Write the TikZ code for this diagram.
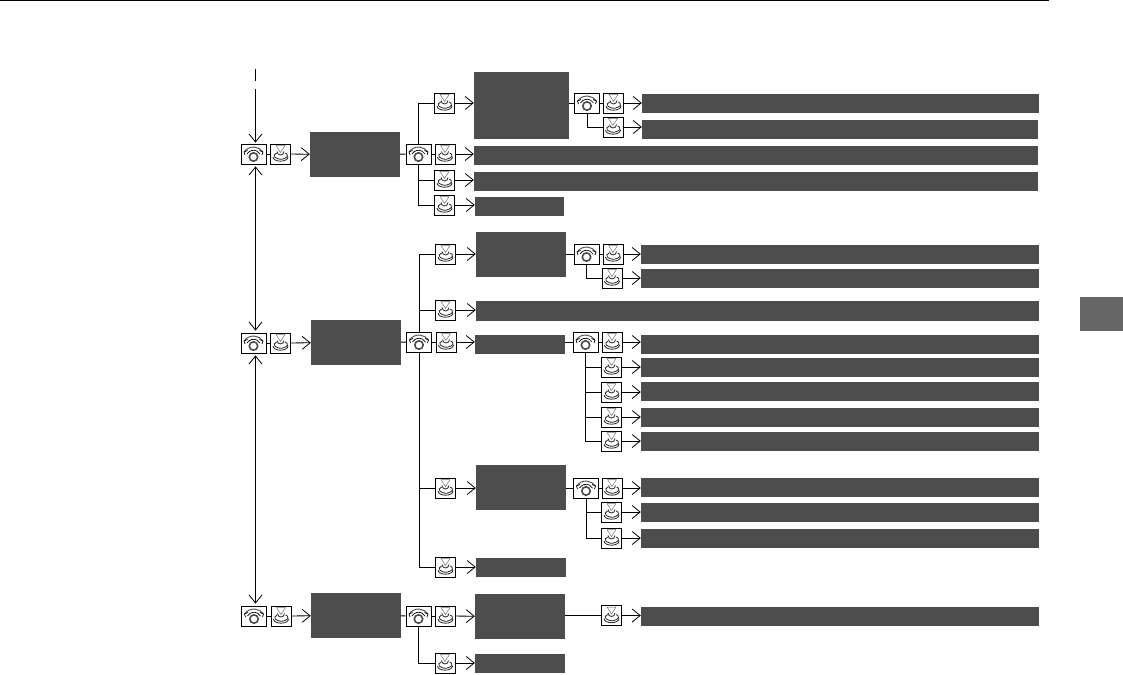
\documentclass[tikz,border=0pt]{standalone}
\usepackage{tikz}
\usetikzlibrary{arrows.meta, calc}
\definecolor{bardark}{HTML}{4D4D4D}
\definecolor{tabgrey}{HTML}{666666}
\tikzset{
  link/.style={line width=0.8pt},
  go/.style={link, -{Straight Barb[length=8pt,width=13pt,line width=0.8pt]}},
  both/.style={link, {Straight Barb[length=8pt,width=13pt,line width=0.8pt]}-{Straight Barb[length=8pt,width=13pt,line width=0.8pt]}},
  bar/.style={fill=bardark, inner sep=0pt, minimum height=19pt},
  box/.style={fill=bardark, inner sep=0pt, minimum width=90pt, minimum height=45pt},
  stub/.style={fill=bardark, inner sep=0pt, minimum width=90pt, minimum height=19pt},
  dial/.style={draw, line width=0.8pt, fill=white, inner sep=0pt, minimum width=25pt, minimum height=20pt,
    path picture={
      \tikzset{y=1pt}
      \draw[line width=1.6pt, black!70] (path picture bounding box.center) ++(0,-3) circle (4.2);
      \draw[line width=0.7pt] (path picture bounding box.center) ++(-6.5,0) arc (150:30:7.5);
      \draw[line width=0.9pt, black!70] (path picture bounding box.center) ++(-9.5,2) arc (145:35:11.6);
      \draw[line width=0.7pt] (path picture bounding box.center) ++(-9.5,2) -- ++(3.5,1.5);
      \draw[line width=0.7pt] (path picture bounding box.center) ++(-9.5,2) -- ++(1,-3);
      \draw[line width=0.7pt] (path picture bounding box.center) ++(9.5,2) -- ++(-3.5,1.5);
      \draw[line width=0.7pt] (path picture bounding box.center) ++(9.5,2) -- ++(-1,-3);
    }},
  push/.style={draw, line width=0.8pt, fill=white, inner sep=0pt, minimum width=20pt, minimum height=20pt,
    path picture={
      \tikzset{y=1pt}
      \draw[line width=0.5pt, black!55] (path picture bounding box.center) ++(-4.5,8.5) -- ++(9,0) -- ++(-4.5,-7) -- cycle;
      \draw[line width=0.8pt, black!85] (path picture bounding box.center) ++(-3.5,2.5) arc (180:360:3.5 and 3.5);
      \draw[line width=0.8pt, black!85] (path picture bounding box.center) ++(-3.8,1) arc (120:240:5 and 3) arc (220:320:5.5 and 3) arc (300:420:5 and 3);
      \draw[line width=0.8pt, black!85] (path picture bounding box.center) ++(-7.5,-3) arc (180:360:7.5 and 4.2);
    }}
}
\begin{document}
\begin{tikzpicture}[x=1pt, y=-1pt]
    \useasboundingbox (0,0) rectangle (1123,674);

    \draw[line width=1.5pt] (0,0.5) -- (1049,0.5);
    \fill[tabgrey] (1080,297) rectangle (1123,331);

    % top group
    \node[dial] (dialA) at (253.5,154) {};
    \node[push] (pushA) at (280.5,154) {};
    \node[box] (boxA) at (355,154.5) {};
    \node[dial] (dialAa) at (418.5,154) {};
    \node[push] (pushAa) at (445,154) {};
    \node[bar, minimum width=564pt] (barAa) at (756,155.5) {};
    \node[push] (pushAb) at (444.5,103) {};
    \node[box, minimum width=95pt, minimum height=67pt] (boxAb) at (521.5,105.5) {};
    \node[dial] (dialAb) at (587,103) {};
    \node[push] (pushAc) at (613.5,103) {};
    \node[bar, minimum width=397pt] (barAc) at (840.5,103.5) {};
    \node[push] (pushAd) at (613,127) {};
    \node[bar, minimum width=396pt] (barAd) at (840,129.5) {};
    \node[push] (pushAe) at (444.5,180) {};
    \node[bar, minimum width=564pt] (barAe) at (756,181) {};
    \node[push] (pushAf) at (444.5,205) {};
    \node[stub, minimum width=89pt] (stubA) at (519.5,206) {};

    % middle group
    \node[dial] (dialB) at (253.5,343) {};
    \node[push] (pushB) at (280.5,343) {};
    \node[box] (boxB) at (356,342.5) {};
    \node[dial] (dialBa) at (419,342) {};
    \node[push] (pushBa) at (446,342) {};
    \node[stub] (stubB) at (520,344.5) {};
    \node[push] (pushBb) at (445.5,254) {};
    \node[box] (boxBb) at (521,254.5) {};
    \node[dial] (dialBb) at (586.5,254) {};
    \node[push] (pushBc) at (613,254) {};
    \node[bar, minimum width=398pt] (barBc) at (840,254.5) {};
    \node[push] (pushBd) at (612,278) {};
    \node[bar, minimum width=398pt] (barBd) at (840,278.5) {};
    \node[push] (pushBe) at (445.5,310) {};
    \node[bar, minimum width=563pt, minimum height=20pt] (barBe) at (757.5,311) {};
    \node[dial] (dialBc) at (585.5,342) {};
    \node[push] (pushBf) at (612,342) {};
    \node[bar, minimum width=398pt] (barBf) at (840,344) {};
    \node[push] (pushBg) at (611.5,367) {};
    \node[bar, minimum width=398pt] (barBg) at (840,367.5) {};
    \node[push] (pushBh) at (611.5,392) {};
    \node[bar, minimum width=398pt] (barBh) at (840,391.5) {};
    \node[push] (pushBi) at (611.5,417) {};
    \node[bar, minimum width=398pt] (barBi) at (840,417.5) {};
    \node[push] (pushBj) at (611.5,441) {};
    \node[bar, minimum width=398pt] (barBj) at (840,441.5) {};
    \node[push] (pushBk) at (445.5,488) {};
    \node[box] (boxBk) at (521,487.5) {};
    \node[dial] (dialBk) at (586,488) {};
    \node[push] (pushBl) at (612,488) {};
    \node[bar, minimum width=398pt] (barBl) at (840,487.5) {};
    \node[push] (pushBm) at (611.5,512) {};
    \node[bar, minimum width=398pt] (barBm) at (840,512.5) {};
    \node[push] (pushBn) at (611.5,538) {};
    \node[bar, minimum width=398pt] (barBn) at (840,538.5) {};
    \node[push] (pushBo) at (445.5,567) {};
    \node[stub] (stubBo) at (521,567.5) {};

    % bottom group
    \node[dial] (dialC) at (254,616) {};
    \node[push] (pushC) at (281,616) {};
    \node[box] (boxC) at (356,615.5) {};
    \node[dial] (dialCa) at (418.5,616) {};
    \node[push] (pushCa) at (445.5,616) {};
    \node[box] (boxCa) at (520,616.5) {};
    \node[push] (pushCb) at (611.5,615.5) {};
    \node[bar, minimum width=398pt] (barCb) at (840,616.5) {};
    \node[push] (pushCc) at (445,663) {};
    \node[stub] (stubC) at (520,663.5) {};

    % entry and mode changes
    \coordinate (inA) at (255.5,69);
    \coordinate (inB) at (255.5,81);
    \coordinate (inC) at (255.5,89);
    \draw[link] (inA) -- (inB);
    \draw[go] (inC) -- ($(dialA.north -| inC)+(0,-1)$);
    \draw[both] ($(dialA.south -| inC)+(0,2)$) -- ($(dialB.north -| inC)+(0,-2)$);
    \draw[both] ($(dialB.south -| inC)+(0,2)$) -- ($(dialC.north -| inC)+(0,-2)$);

    % links
    \draw[link] (dialA) -- (pushA);
    \draw[go] (pushA) -- (boxA);
    \draw[link] (boxA) -- (dialAa);
    \draw[link] (dialAa) -- (pushAa);
    \draw[go] (pushAa) -- (barAa.west |- pushAa);
    \draw[link] (dialAa.north) |- (pushAb);
    \draw[link] (dialAa.south) |- (pushAe);
    \draw[link] (dialAa.south) |- (pushAf);
    \draw[go] (pushAb) -- (boxAb.west |- pushAb);
    \draw[go] (pushAe) -- (barAe.west |- pushAe);
    \draw[go] (pushAf) -- (stubA.west |- pushAf);
    \draw[link] (boxAb.east |- dialAb) -- (dialAb);
    \draw[link] (dialAb) -- (pushAc);
    \draw[go] (pushAc) -- (barAc.west |- pushAc);
    \draw[link] (dialAb.south) |- (pushAd);
    \draw[go] (pushAd) -- (barAd.west |- pushAd);

    \draw[link] (dialB) -- (pushB);
    \draw[go] (pushB) -- (boxB);
    \draw[link] (boxB) -- (dialBa);
    \draw[link] (dialBa) -- (pushBa);
    \draw[go] (pushBa) -- (stubB.west |- pushBa);
    \draw[link] (dialBa.north) |- (pushBb);
    \draw[link] (dialBa.north) |- (pushBe);
    \draw[link] (dialBa.south) |- (pushBk);
    \draw[link] (dialBa.south) |- (pushBo);
    \draw[go] (pushBb) -- (boxBb.west |- pushBb);
    \draw[go] (pushBe) -- (barBe.west |- pushBe);
    \draw[go] (pushBk) -- (boxBk.west |- pushBk);
    \draw[go] (pushBo) -- (stubBo.west |- pushBo);
    \draw[link] (boxBb.east |- dialBb) -- (dialBb);
    \draw[link] (dialBb) -- (pushBc);
    \draw[go] (pushBc) -- (barBc.west |- pushBc);
    \draw[link] (dialBb.south) |- (pushBd);
    \draw[go] (pushBd) -- (barBd.west |- pushBd);
    \draw[link] (stubB.east |- dialBc) -- (dialBc);
    \draw[link] (dialBc) -- (pushBf);
    \draw[go] (pushBf) -- (barBf.west |- pushBf);
    \foreach \n in {g,h,i,j} {
        \draw[link] (dialBc.south) |- (pushB\n);
        \draw[go] (pushB\n) -- (barB\n.west |- pushB\n);
    }
    \draw[link] (boxBk.east |- dialBk) -- (dialBk);
    \draw[link] (dialBk) -- (pushBl);
    \draw[go] (pushBl) -- (barBl.west |- pushBl);
    \foreach \n in {m,n} {
        \draw[link] (dialBk.south) |- (pushB\n);
        \draw[go] (pushB\n) -- (barB\n.west |- pushB\n);
    }

    \draw[link] (dialC) -- (pushC);
    \draw[go] (pushC) -- (boxC);
    \draw[link] (boxC) -- (dialCa);
    \draw[link] (dialCa) -- (pushCa);
    \draw[go] (pushCa) -- (boxCa);
    \draw[link] (boxCa.east |- pushCb) -- (pushCb);
    \draw[go] (pushCb) -- (barCb.west |- pushCb);
    \draw[link] (dialCa.south) |- (pushCc);
    \draw[go] (pushCc) -- (stubC.west |- pushCc);
\end{tikzpicture}
\end{document}
